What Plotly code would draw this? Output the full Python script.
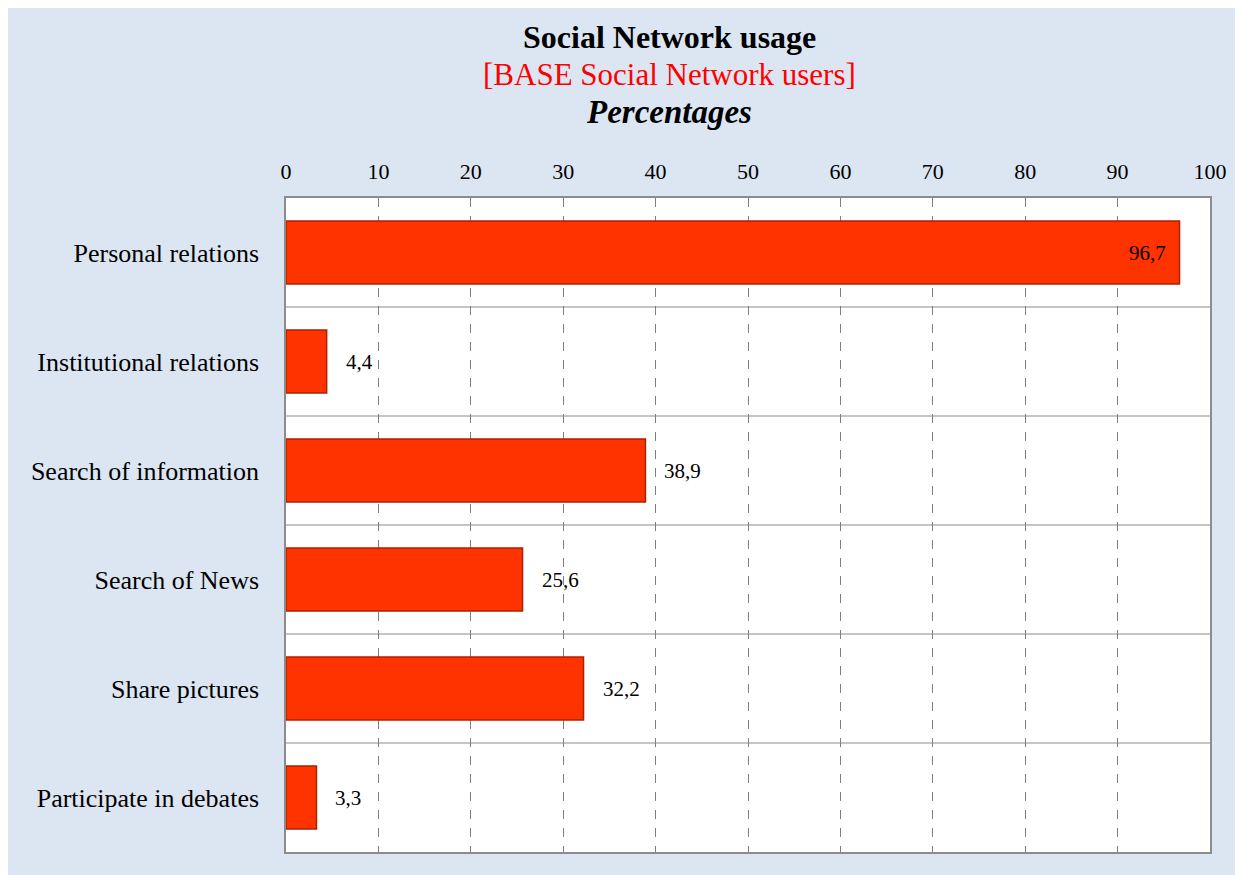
import plotly.graph_objects as go

categories = ["Personal relations", "Institutional relations", "Search of information",
              "Search of News", "Share pictures", "Participate in debates"]
values = [96.7, 4.4, 38.9, 25.6, 32.2, 3.3]
x_ticks = list(range(0, 101, 10))

title_lines = ["<b>Social Network usage</b>", "[BASE Social Network users]", "<b><i>Percentages</i></b>"]
title_colors = ["black", "#FF0000", "black"]
title_sizes = [32, 31, 33]

labels = [f"{v:.1f}".replace(".", ",") for v in values]
FONT = "Liberation Serif"

W, H = 1235, 867
L, R, T, B = 278, 33, 190, 23
PH = H - T - B
PW = W - L - R

fig = go.Figure()
fig.add_trace(go.Bar(
    y=categories, x=values, orientation="h",
    marker=dict(color="#FF3300", line=dict(color="#B02000", width=1.5)),
    width=0.58, hoverinfo="skip",
))

for c, v, t in zip(categories, values, labels):
    inside = v > 90
    fig.add_annotation(
        x=v, y=c, text=t, showarrow=False,
        xanchor="right" if inside else "left",
        xshift=-12 if inside else 17,
        font=dict(family=FONT, size=21, color="black"),
    )

# title lines
for k, (txt, col, sz) in enumerate(zip(title_lines, title_colors, title_sizes)):
    py = [29, 67, 104][k]
    fig.add_annotation(
        xref="paper", yref="paper", x=(661 - L) / PW, y=1 + (T - py) / PH,
        text=txt, showarrow=False, xanchor="center", yanchor="middle",
        font=dict(family=FONT, size=sz, color=col),
    )

# category separators
for i in range(len(categories) - 1):
    fig.add_shape(type="line", xref="paper", x0=0, x1=1, yref="y",
                  y0=i + 0.5, y1=i + 0.5, line=dict(color="#8C8C8C", width=1.2), layer="below")

fig.update_layout(
    width=W, height=H,
    paper_bgcolor="#DCE6F2", plot_bgcolor="white",
    margin=dict(l=L, r=R, t=T, b=B, autoexpand=False),
    showlegend=False,
    xaxis=dict(
        side="top", range=[0, 100], tickvals=x_ticks, ticks="",
        showgrid=True, gridcolor="#7F7F7F", griddash="dash", gridwidth=1,
        showline=True, linecolor="#8C8C8C", linewidth=1.5, mirror=True,
        tickfont=dict(family=FONT, size=22, color="black"), zeroline=False,
        ticklabelstandoff=8, automargin=False,
    ),
    yaxis=dict(
        range=[5.5, -0.5], autorange=False, ticks="", showgrid=False,
        showline=True, linecolor="#8C8C8C", linewidth=1.5, mirror=True,
        tickfont=dict(family=FONT, size=26, color="black"),
        ticklabelstandoff=20, automargin=False,
    ),
)

fig.write_html("out.html")
